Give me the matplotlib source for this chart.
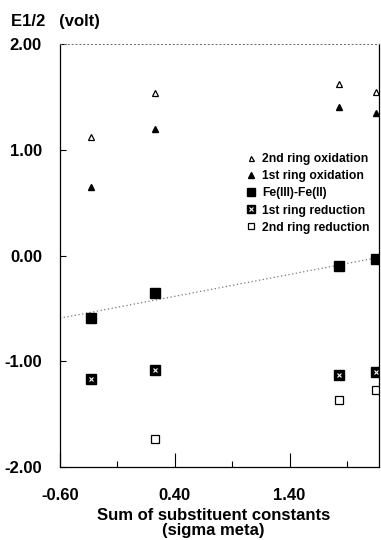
import matplotlib
matplotlib.use("Agg")
import matplotlib.pyplot as plt
import numpy as np

plt.rcParams['font.family'] = ['Liberation Sans', 'DejaVu Sans']
plt.rcParams['font.weight'] = 'bold'

# sum of substituent sigma-meta constants for the four complexes
sigma = [-0.33, 0.23, 1.83, 2.15]

# half-wave potentials (volt)
ox2 = [1.12, 1.54, 1.62, 1.55]
ox1 = [0.65, 1.20, 1.40, 1.35]
fe = [-0.59, -0.35, -0.10, -0.03]
red1 = [-1.17, -1.08, -1.13, -1.10]
red2 = [None, -1.73, -1.37, -1.27]

xticks = [-0.6, 0.4, 1.4]
xminor = [-0.1, 0.9, 1.9]
yticks = [2.0, 1.0, 0.0, -1.0, -2.0]

fig = plt.figure(figsize=(3.81, 5.40), dpi=100)
ax = fig.add_axes([0.1575, 0.135, 0.8375, 0.7835])

# least-squares line through the Fe(III)/Fe(II) couples
k, b = np.polyfit(sigma, fe, 1)
xl = np.array([-0.6, 2.18])
ax.plot(xl, k * xl + b, linestyle=(0, (1, 2)), color='#777777', lw=0.9, zorder=1)

h_ox2, = ax.plot(sigma, ox2, linestyle='none', marker='^', ms=4.5,
                 mfc='white', mec='black', mew=0.9)
h_ox1, = ax.plot(sigma, ox1, linestyle='none', marker='^', ms=5,
                 mfc='black', mec='black')
h_fe, = ax.plot(sigma, fe, linestyle='none', marker='s', ms=7.5,
                mfc='black', mec='black')

h_r1a, = ax.plot(sigma, red1, linestyle='none', marker='s', ms=6.5,
                 mfc='black', mec='black')
h_r1b, = ax.plot(sigma, red1, linestyle='none', marker='x', ms=3.5,
                 mec='white', mew=0.8)

s2 = [s for s, v in zip(sigma, red2) if v is not None]
v2 = [v for v in red2 if v is not None]
h_r2, = ax.plot(s2, v2, linestyle='none', marker='s', ms=5.5,
                mfc='white', mec='black', mew=0.9)

ax.set_xlim(-0.6, 2.18)
ax.set_ylim(-2.0, 2.0)
ax.set_xticks(xticks)
ax.set_xticklabels(['%.2f' % v for v in xticks])
ax.set_xticks(xminor, minor=True)
ax.set_yticks(yticks)
ax.set_yticklabels(['%.2f' % v for v in yticks])
ax.tick_params(axis='both', which='major', direction='in', labelsize=12,
               width=0.8)
ax.tick_params(axis='x', which='major', length=10, pad=15)
ax.tick_params(axis='y', which='major', length=4, pad=13)
ax.tick_params(axis='x', which='minor', direction='in', length=4, width=0.8)

for side in ['left', 'bottom', 'right']:
    ax.spines[side].set_linewidth(0.9)
ax.spines['top'].set_linestyle((0, (1, 3)))
ax.spines['top'].set_color('#666666')
ax.spines['top'].set_linewidth(0.7)

ax.legend([h_ox2, h_ox1, h_fe, (h_r1a, h_r1b), h_r2],
          ['2nd ring oxidation', '1st ring oxidation', 'Fe(III)-Fe(II)',
           '1st ring reduction', '2nd ring reduction'],
          loc='upper left', bbox_to_anchor=(0.63, 0.728),
          bbox_transform=fig.transFigure, frameon=False,
          prop={'size': 8.7, 'weight': 'bold'}, handlelength=0.8,
          handletextpad=0.5, labelspacing=0.43, borderpad=0,
          markerscale=0.8)

fig.text(0.03, 0.96, 'E1/2   (volt)', fontsize=12, fontweight='bold',
         ha='left', va='center')
fig.text(0.56, 0.031, 'Sum of substituent constants\n(sigma meta)',
         fontsize=12, fontweight='bold', ha='center', va='center',
         linespacing=1.0)

fig.savefig('out.png', dpi=100)
